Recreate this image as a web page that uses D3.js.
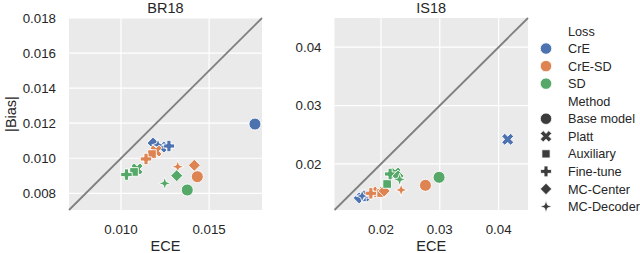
<!DOCTYPE html>
<html lang="en">
<head>
  <meta charset="UTF-8">
  <title>ECE vs |Bias|</title>
  <script src="https://d3js.org/d3.v7.min.js"></script>
  <style>
    body { margin: 0; background: white; }
    text { font-family: "Liberation Sans", Arial, sans-serif; fill: #262626; }
    .tick-label { font-size: 13.3px; }
    .axis-label { font-size: 14.5px; }
    .panel-title { font-size: 14.5px; }
    .legend-text { font-size: 12.7px; }
  </style>
</head>
<body>
<div id="chart"></div>
<script>
  // ---- data ----
  const losses = ["CrE", "CrE-SD", "SD"];
  const methods = ["Base model", "Platt", "Auxiliary", "Fine-tune", "MC-Center", "MC-Decoder"];
  const lossColors = ["#4c72b0", "#dd8452", "#55a868"];

  // rows = loss, columns = method
  const br18Ece = [
    [0.0176, 0.01227, 0.01193, 0.01272, 0.01182, 0.01210],
    [0.01433, 0.01199, 0.01176, 0.01142, 0.01416, 0.01322],
    [0.01376, 0.01091, 0.01074, 0.01031, 0.01316, 0.01248]
  ];
  const br18Bias = [
    [0.01195, 0.01064, 0.01070, 0.01070, 0.01087, 0.01076],
    [0.00895, 0.01041, 0.01024, 0.00996, 0.00960, 0.00952],
    [0.00819, 0.00939, 0.00922, 0.00907, 0.00901, 0.00857]
  ];
  const is18Ece = [
    [0.01731, 0.04155, 0.01663, 0.01714, 0.01630, 0.01680],
    [0.02756, 0.01952, 0.02003, 0.01828, 0.02054, 0.02343],
    [0.02988, 0.02241, 0.02105, 0.02156, 0.02292, 0.02317]
  ];
  const is18Bias = [
    [0.01450, 0.02421, 0.01433, 0.01450, 0.01416, 0.01450],
    [0.01633, 0.01518, 0.01501, 0.01496, 0.01536, 0.01553],
    [0.01770, 0.01844, 0.01656, 0.01827, 0.01793, 0.01733]
  ];

  const br18XTicks = [0.010, 0.015];
  const br18YTicks = [0.008, 0.010, 0.012, 0.014, 0.016, 0.018];
  const is18XTicks = [0.02, 0.03, 0.04];
  const is18YTicks = [0.02, 0.03, 0.04];

  // ---- layout ----
  const width = 640, height = 253;
  const plotTop = 18, plotBottom = 210;

  const svg = d3.select("#chart").append("svg")
      .attr("width", width)
      .attr("height", height);

  // marker shapes (seaborn defaults: o, X, square, P, diamond, 4-star)
  function polyPath(pts) {
    return "M" + pts.map(p => p[0].toFixed(2) + "," + p[1].toFixed(2)).join("L") + "Z";
  }
  function plusPts(r, w, rot) {
    const base = [[-w,-r],[w,-r],[w,-w],[r,-w],[r,w],[w,w],[w,r],[-w,r],[-w,w],[-r,w],[-r,-w],[-w,-w]];
    const c = Math.cos(rot), s = Math.sin(rot);
    return base.map(p => [p[0]*c - p[1]*s, p[0]*s + p[1]*c]);
  }
  function markerPath(m, k) {
    const r = 6 * k;
    switch (m) {
      case 0: return d3.arc()({innerRadius: 0, outerRadius: r, startAngle: 0, endAngle: 2*Math.PI});
      case 1: return polyPath(plusPts(r * 1.05, r * 0.36, Math.PI / 4));
      case 2: { const h = r * 0.72; return polyPath([[-h,-h],[h,-h],[h,h],[-h,h]]); }
      case 3: return polyPath(plusPts(r * 0.95, r * 0.34, 0));
      case 4: return polyPath([[0,-r],[r,0],[0,r],[-r,0]]);
      case 5: {
        const ri = r * 0.38, pts = [];
        for (let i = 0; i < 8; i++) {
          const a = -Math.PI/2 + i * Math.PI/4;
          const rr = i % 2 === 0 ? r * 1.05 : ri;
          pts.push([rr*Math.cos(a), rr*Math.sin(a)]);
        }
        return polyPath(pts);
      }
    }
  }

  function drawPanel(cfg) {
    const x = d3.scaleLinear().domain(cfg.domain).range([cfg.left, cfg.right]);
    const y = d3.scaleLinear().domain(cfg.domain).range([plotBottom, plotTop]);
    const g = svg.append("g");

    g.append("rect")
      .attr("x", cfg.left).attr("y", plotTop)
      .attr("width", cfg.right - cfg.left).attr("height", plotBottom - plotTop)
      .attr("fill", "#eaeaea");

    g.selectAll(".vgrid").data(cfg.xTicks).enter().append("line")
      .attr("x1", d => x(d)).attr("x2", d => x(d))
      .attr("y1", plotTop).attr("y2", plotBottom)
      .attr("stroke", "white").attr("stroke-width", 1.2);
    g.selectAll(".hgrid").data(cfg.yTicks).enter().append("line")
      .attr("x1", cfg.left).attr("x2", cfg.right)
      .attr("y1", d => y(d)).attr("y2", d => y(d))
      .attr("stroke", "white").attr("stroke-width", 1.2);

    g.selectAll(".xt").data(cfg.xTicks).enter().append("text")
      .attr("class", "tick-label")
      .attr("x", d => x(d)).attr("y", plotBottom + 24)
      .attr("text-anchor", "middle")
      .text(d => d.toFixed(cfg.xDigits));
    g.selectAll(".yt").data(cfg.yTicks).enter().append("text")
      .attr("class", "tick-label")
      .attr("x", cfg.left - 13).attr("y", d => y(d))
      .attr("dy", "0.36em")
      .attr("text-anchor", "end")
      .text(d => d.toFixed(cfg.yDigits));

    // diagonal y = x
    g.append("line")
      .attr("x1", x(cfg.domain[0])).attr("y1", y(cfg.domain[0]))
      .attr("x2", x(cfg.domain[1])).attr("y2", y(cfg.domain[1]))
      .attr("stroke", "#808080").attr("stroke-width", 1.8);

    const pts = [];
    losses.forEach((l, li) => methods.forEach((m, mi) => {
      pts.push({li, mi, ece: cfg.ece[li][mi], bias: cfg.bias[li][mi]});
    }));
    g.selectAll(".pt").data(pts).enter().append("path")
      .attr("transform", d => `translate(${x(d.ece)},${y(d.bias)})`)
      .attr("d", d => markerPath(d.mi, 1))
      .attr("fill", d => lossColors[d.li])
      .attr("stroke", "white").attr("stroke-width", 0.9);

    g.append("text").attr("class", "panel-title")
      .attr("x", (cfg.left + cfg.right) / 2).attr("y", 13)
      .attr("text-anchor", "middle").text(cfg.title);
    g.append("text").attr("class", "axis-label")
      .attr("x", (cfg.left + cfg.right) / 2).attr("y", 251)
      .attr("text-anchor", "middle").text("ECE");
  }

  drawPanel({title: "BR18", left: 69, right: 262, domain: [0.00705, 0.018],
    xTicks: br18XTicks, yTicks: br18YTicks, xDigits: 3, yDigits: 3, ece: br18Ece, bias: br18Bias});
  drawPanel({title: "IS18", left: 334.5, right: 528, domain: [0.0121, 0.045],
    xTicks: is18XTicks, yTicks: is18YTicks, xDigits: 2, yDigits: 2, ece: is18Ece, bias: is18Bias});

  svg.append("text").attr("class", "axis-label")
    .attr("transform", `translate(16,${(plotTop + plotBottom) / 2}) rotate(-90)`)
    .attr("text-anchor", "middle").text("|Bias|");

  // ---- legend ----
  const legendRows = [{label: "Loss", title: true}]
    .concat(losses.map((l, i) => ({label: l, color: lossColors[i], m: 0})))
    .concat([{label: "Method", title: true}])
    .concat(methods.map((m, i) => ({label: m, color: "#3c3c3c", m: i})));
  const lg = svg.append("g");
  legendRows.forEach((d, i) => {
    const yy = 31 + i * 17.55;
    if (!d.title) {
      lg.append("path")
        .attr("transform", `translate(546,${yy})`)
        .attr("d", markerPath(d.m, 0.95))
        .attr("fill", d.color).attr("stroke", "white").attr("stroke-width", 0.8);
    }
    lg.append("text").attr("class", "legend-text")
      .attr("x", 568).attr("y", yy).attr("dy", "0.36em")
      .text(d.label);
  });
</script>
</body>
</html>
